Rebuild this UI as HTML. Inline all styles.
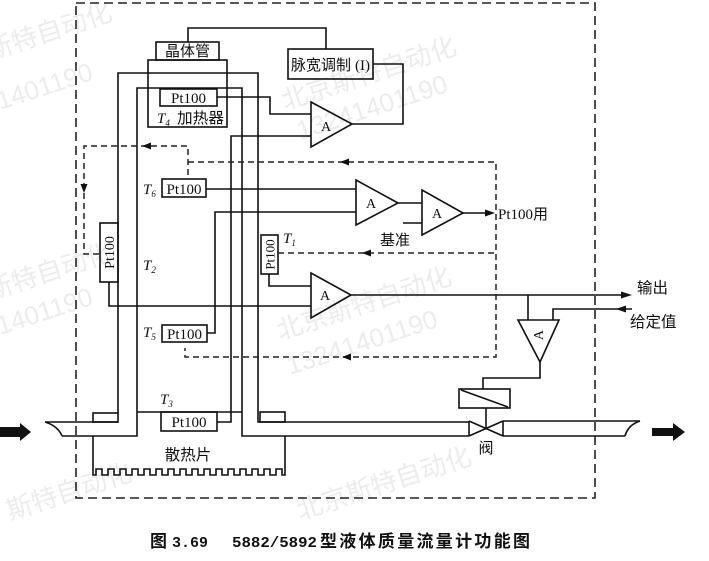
<!DOCTYPE html>
<html>
<head>
<meta charset="utf-8">
<style>
  html,body{margin:0;padding:0;background:#fff;}
  svg{display:block;}
  .s{font-family:"Liberation Serif","Noto Serif CJK SC",serif;}
  .c{font-family:"Liberation Sans","Noto Sans CJK SC",sans-serif;}
</style>
</head>
<body>
<svg width="709" height="561" viewBox="0 0 709 561" xmlns="http://www.w3.org/2000/svg">
  <rect x="0" y="0" width="709" height="561" fill="#fff"/>

  <!-- faint watermarks -->
  <g class="c" fill="#ececec" font-size="26">
    <text x="-10" y="60" transform="rotate(-18 -10 60)">斯特自动化</text>
    <text x="0" y="110" transform="rotate(-18 0 110)">1401190</text>
    <text x="285" y="110" transform="rotate(-18 285 110)">北京斯特自动化</text>
    <text x="300" y="140" transform="rotate(-18 300 140)">13241401190</text>
    <text x="-10" y="300" transform="rotate(-18 -10 300)">斯特自动化</text>
    <text x="0" y="335" transform="rotate(-18 0 335)">1401190</text>
    <text x="280" y="340" transform="rotate(-18 280 340)">北京斯特自动化</text>
    <text x="290" y="375" transform="rotate(-18 290 375)">13241401190</text>
    <text x="10" y="520" transform="rotate(-18 10 520)">斯特自动化</text>
    <text x="300" y="520" transform="rotate(-18 300 520)">北京斯特自动化</text>
  </g>

  <!-- outer dashed boundary -->
  <rect x="76" y="3" width="519" height="495" fill="none" stroke="#222" stroke-width="1.6" stroke-dasharray="9 5"/>

  <g fill="none" stroke="#111" stroke-width="1.6" stroke-linejoin="miter">
    <!-- top connector to transistor -->
    <polyline points="188,42 188,28 326,28 326,49"/>
    <!-- transistor box -->
    <rect x="156" y="42" width="63" height="18"/>
    <!-- heater box -->
    <rect x="148" y="60" width="79" height="67"/>
    <!-- Pt100 in heater -->
    <rect x="160" y="89" width="57" height="17"/>

    <!-- U tube outer -->
    <polyline points="118,413 118,73 258,73 258,422 469,422"/>
    <!-- U tube inner -->
    <polyline points="62,436 137,436 137,88 242,88 242,436 469,436"/>
    <!-- left upper pipe -->
    <line x1="45" y1="422" x2="118" y2="422"/>
    <!-- left pipe end -->
    <path d="M45,422 Q58,426 62,436"/>
    <!-- flanges -->
    <rect x="93" y="413" width="25" height="9"/>
    <rect x="260" y="412" width="25" height="10"/>

    <!-- heat sink -->
    <path d="M93,436 V475 h3 v-6 h6 v6 h3 h3 v-6 h6 v6 h3 h3 v-6 h6 v6 h3 h3 v-6 h6 v6 h3 h3 v-6 h6 v6 h3 h3 v-6 h6 v6 h3 h3 v-6 h6 v6 h3 h3 v-6 h6 v6 h3 h3 v-6 h6 v6 h3 h3 v-6 h6 v6 h3 h3 v-6 h6 v6 h3 h3 v-6 h6 v6 h3 h3 v-6 h6 v6 h3 h3 v-6 h6 v6 h3 h3 v-6 h6 v6 h3 h3 v-6 h6 v6 h3 V436"/>
    <line x1="137" y1="412" x2="242" y2="412"/>

    <!-- T3 Pt100 -->
    <rect x="161" y="412" width="56" height="19"/>
    <polyline points="217,422 231,422 231,136 311,136"/>

    <!-- heater Pt100 lead -->
    <polyline points="217,97 270,97 270,114 311,114"/>
    <!-- Amp1 -->
    <polygon points="311,102 311,147 352,124"/>
    <polyline points="352,124 403,124 403,64 373,64"/>
    <!-- PWM box -->
    <rect x="288" y="49" width="85" height="30"/>

    <!-- T6 Pt100 -->
    <rect x="162" y="179" width="44" height="18"/>
    <line x1="206" y1="189" x2="356" y2="189"/>
    <!-- Amp2 -->
    <polygon points="356,180 356,225 398,203"/>
    <!-- T5 Pt100 -->
    <rect x="162" y="325" width="45" height="17"/>
    <polyline points="207,333 215,333 215,212 356,212"/>
    <!-- Amp2b -->
    <line x1="398" y1="203" x2="422" y2="203"/>
    <polygon points="422,190 422,235 463,213"/>
    <line x1="403" y1="223" x2="422" y2="223"/>
    <line x1="463" y1="213" x2="488" y2="213"/>

    <!-- T2 Pt100 (vertical) -->
    <rect x="100" y="223" width="18" height="59"/>
    <polyline points="109,282 109,306 311,306"/>
    <!-- T1 Pt100 (vertical) -->
    <rect x="261" y="235" width="17" height="39"/>
    <polyline points="269,274 269,286 311,286"/>
    <!-- Amp3 -->
    <polygon points="311,273 311,318 351,295"/>
    <line x1="351" y1="295" x2="624" y2="295"/>
    <line x1="528" y1="295" x2="528" y2="320"/>
    <!-- Amp4 -->
    <polygon points="518,320 559,320 540,362"/>
    <polyline points="553,320 553,309 632,309"/>
    <polyline points="540,362 540,378 483,378 483,389"/>

    <!-- solenoid -->
    <rect x="459" y="389" width="51" height="19"/>
    <line x1="461" y1="390" x2="508" y2="407"/>
    <line x1="486" y1="408" x2="486" y2="428"/>
    <!-- valve -->
    <line x1="469" y1="421" x2="469" y2="436"/>
    <line x1="503" y1="421" x2="503" y2="436"/>
    <line x1="469" y1="421" x2="503" y2="436"/>
    <line x1="469" y1="436" x2="503" y2="421"/>
    <!-- right pipe -->
    <line x1="503" y1="421" x2="640" y2="421"/>
    <line x1="503" y1="436" x2="625" y2="436"/>
    <path d="M640,421 Q628,425 625,436"/>
  </g>

  <!-- dashed signal lines -->
  <g fill="none" stroke="#222" stroke-width="1.5" stroke-dasharray="6 4">
    <polyline points="188,175 188,146 84,146 84,254 100,254"/>
    <polyline points="188,162 496,162 496,357 185,357 185,348"/>
    <line x1="278" y1="253" x2="496" y2="253"/>
  </g>

  <!-- arrowheads -->
  <g fill="#111" stroke="none">
    <polygon points="142,146 151,142.5 151,149.5"/>
    <polygon points="84,193 80.5,184 87.5,184"/>
    <polygon points="340,162 349,158.5 349,165.5"/>
    <polygon points="362,253 371,249.5 371,256.5"/>
    <polygon points="342,357 351,353.5 351,360.5"/>
    <polygon points="495,213 485,209.5 485,216.5"/>
    <polygon points="632,295 621,291.5 621,298.5"/>
    <polygon points="616,309 626,305.5 626,312.5"/>
    <!-- big flow arrows -->
    <polygon points="0,427 20,427 20,423 31,432 20,441 20,437 0,437"/>
    <polygon points="652,428 673,428 673,423 685,432 673,441 673,436 652,436"/>
  </g>

  <!-- text labels -->
  <g class="c" fill="#111" font-size="15">
    <text x="187.5" y="56" text-anchor="middle">晶体管</text>
    <text x="177" y="123" textLength="47" lengthAdjust="spacingAndGlyphs">加热器</text>
    <text x="291" y="70" textLength="60" lengthAdjust="spacingAndGlyphs">脉宽调制</text>
    <text x="380" y="245" textLength="30" lengthAdjust="spacingAndGlyphs">基准</text>
    <text x="188" y="460" text-anchor="middle" font-size="15.5">散热片</text>
    <text x="486" y="453" text-anchor="middle">阀</text>
    <text x="637" y="293" font-size="15.5">输出</text>
    <text x="630" y="327" font-size="15.5">给定值</text>
  </g>
  <g class="s" fill="#111" font-size="15">
    <text x="355" y="70">(I)</text>
    <text x="188.5" y="103" text-anchor="middle">Pt100</text>
    <text x="184" y="194" text-anchor="middle">Pt100</text>
    <text x="184.5" y="339" text-anchor="middle">Pt100</text>
    <text x="189" y="427" text-anchor="middle">Pt100</text>
    <text x="498" y="219">Pt100<tspan class="c" font-size="15">用</tspan></text>
    <text transform="translate(114 252.5) rotate(-90)" text-anchor="middle" font-size="14">Pt100</text>
    <text transform="translate(274.5 254.5) rotate(-90)" text-anchor="middle" font-size="13">Pt100</text>
    <text x="326" y="131" text-anchor="middle" font-size="14">A</text>
    <text x="371" y="208" text-anchor="middle" font-size="14">A</text>
    <text x="437" y="218" text-anchor="middle" font-size="14">A</text>
    <text x="325" y="300" text-anchor="middle" font-size="14">A</text>
    <text transform="translate(543 335) rotate(-90)" text-anchor="middle" font-size="14">A</text>
  </g>
  <!-- T labels -->
  <g class="s" fill="#111" font-size="15" font-style="italic">
    <text x="157" y="123">T<tspan font-size="9" dy="3">4</tspan></text>
    <text x="143" y="194">T<tspan font-size="9" dy="3">6</tspan></text>
    <text x="143" y="270">T<tspan font-size="9" dy="3">2</tspan></text>
    <text x="143" y="337">T<tspan font-size="9" dy="3">5</tspan></text>
    <text x="283" y="243">T<tspan font-size="9" dy="3">1</tspan></text>
    <text x="160" y="404">T<tspan font-size="9" dy="3">3</tspan></text>
  </g>

  <!-- caption -->
  <g fill="#111" font-weight="bold">
    <text x="150" y="547" class="c" font-size="17">图</text>
    <text x="172" y="547" font-family="Liberation Mono, monospace" font-size="15" textLength="36" lengthAdjust="spacingAndGlyphs">3.69</text>
    <text x="232" y="547" font-family="Liberation Mono, monospace" font-size="15" textLength="85" lengthAdjust="spacingAndGlyphs">5882/5892</text>
    <text x="320" y="547" class="c" font-size="17" textLength="210" lengthAdjust="spacing">型液体质量流量计功能图</text>
  </g>
</svg>
</body>
</html>
